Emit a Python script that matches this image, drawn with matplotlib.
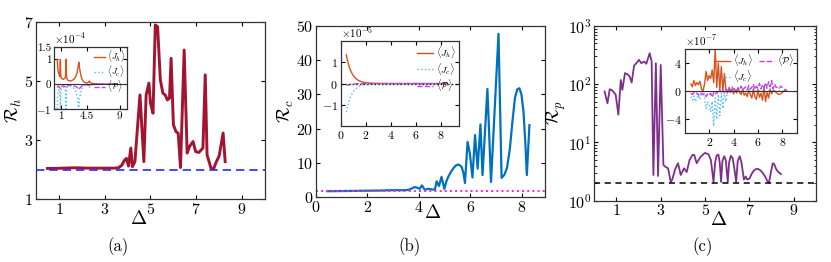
import numpy as np
import matplotlib
matplotlib.use("Agg")
import matplotlib.pyplot as plt

plt.rcParams['font.family'] = 'serif'
plt.rcParams['font.serif'] = ['cmr10', 'DejaVu Serif']
plt.rcParams['mathtext.fontset'] = 'cm'
plt.rcParams['axes.formatter.use_mathtext'] = True
plt.rcParams['axes.unicode_minus'] = True

# ---------------- data: panel (a) ----------------
xa = [0.5, 0.8, 1.2, 1.6, 1.9, 2.2, 2.6, 3.0, 3.4, 3.6, 3.75, 3.85, 3.95, 4.04, 4.14,
      4.21, 4.32, 4.54, 4.71, 4.81, 4.93, 5.0, 5.11, 5.21, 5.31, 5.43, 5.54, 5.64, 5.74,
      5.83, 5.9, 6.0, 6.11, 6.21, 6.31, 6.47, 6.6, 6.71, 6.86, 6.97, 7.11, 7.29, 7.39,
      7.47, 7.64, 7.76, 7.86, 8.0, 8.17, 8.26]
ra = [2.04, 2.04, 2.05, 2.06, 2.06, 2.05, 2.05, 2.05, 2.05, 2.06, 2.15, 2.3, 2.38, 2.12, 2.73,
      2.1, 2.27, 4.53, 2.27, 4.53, 4.93, 4.25, 3.91, 6.9, 6.84, 5.04, 4.59, 4.53, 4.36,
      4.42, 5.77, 3.52, 3.29, 3.23, 2.07, 6.05, 2.56, 2.79, 2.95, 2.61, 2.58, 2.73, 5.21,
      2.5, 2.05, 2.03, 2.24, 2.47, 3.24, 2.27]
ref_a = 2.0

xia = [0.45, 0.5, 0.55, 0.62, 0.7, 0.8, 0.87, 0.92, 1.0, 1.1, 1.2, 1.3, 1.4, 1.5, 1.6, 1.66,
       1.72, 1.8, 1.9, 2.0, 2.2, 2.4, 2.6, 2.8, 3.0, 3.15, 3.3, 3.4, 3.5, 3.65, 3.8, 4.0,
       4.2, 4.4, 4.6, 4.75, 4.85, 4.95, 5.1, 5.3, 5.6, 6.0, 6.5, 7.0, 7.5, 8.0, 8.4]
jha = [1.0, 0.7, 0.55, 0.45, 0.38, 0.3, 1.0, 0.35, 0.25, 0.22, 0.2, 0.2, 0.22, 0.25, 0.35, 1.0,
       0.3, 0.2, 0.16, 0.14, 0.13, 0.14, 0.17, 0.22, 0.32, 0.45, 0.7, 0.88, 0.65, 0.4, 0.22, 0.12,
       0.07, 0.05, 0.05, 0.08, 0.13, 0.07, 0.04, 0.03, 0.02, 0.01, 0.005, 0.0, 0.0, 0.0, 0.0]
jca = [-1.0, -0.5, -0.35, -0.25, -0.2, -0.3, -1.0, -0.3, -0.2, -0.15, -0.12, -0.12, -0.15, -0.2,
       -0.3, -1.0, -0.25, -0.15, -0.1, -0.08, -0.08, -0.1, -0.13, -0.2, -0.3, -0.45, -0.7, -0.95,
       -0.6, -0.35, -0.18, -0.08, -0.05, -0.04, -0.05, -0.08, -0.15, -0.06, -0.03, -0.02, -0.01,
       -0.005, 0, 0, 0, 0, 0]
pa = [-0.1, -0.12, -0.1, -0.08, -0.1, -0.15, -0.18, -0.12, -0.1, -0.08, -0.07, -0.07, -0.08, -0.1,
      -0.12, -0.15, -0.1, -0.07, -0.05, -0.04, -0.04, -0.05, -0.06, -0.08, -0.1, -0.13, -0.18,
      -0.22, -0.17, -0.12, -0.08, -0.05, -0.03, -0.02, -0.02, -0.03, -0.05, -0.02, -0.01, -0.01,
      0, 0, 0, 0, 0, 0, 0]

# ---------------- data: panel (b) ----------------
xb = [0.45, 1.0, 1.5, 2.0, 2.5, 3.0, 3.4, 3.6, 3.75, 3.84, 3.95, 4.03, 4.12, 4.23, 4.36, 4.55,
      4.62, 4.69, 4.78, 4.88, 4.99, 5.06, 5.14, 5.24, 5.33, 5.43, 5.53, 5.6, 5.66, 5.73, 5.79,
      5.89, 5.98, 6.08, 6.18, 6.28, 6.39, 6.47, 6.66, 6.8, 7.09, 7.21, 7.32, 7.42, 7.53, 7.63,
      7.73, 7.82, 7.9, 7.98, 8.06, 8.13, 8.19, 8.29]
rb = [1.7, 1.75, 1.8, 1.85, 1.9, 2.0, 2.0, 2.1, 2.6, 2.9, 2.7, 2.4, 3.4, 2.1, 2.4, 2.2,
      2.1, 4.6, 3.2, 5.9, 2.4, 4.4, 5.9, 7.3, 8.3, 9.2, 9.5, 9.2, 8.8, 7.0, 4.1,
      16.1, 12.7, 5.7, 18.1, 8.3, 21.2, 6.4, 31.6, 4.4, 47.7, 5.6, 6.5, 8.5, 14.0, 22.0,
      29.0, 31.5, 31.8, 30.0, 25.0, 16.0, 6.4, 21.0]
ref_b = 1.8

xib = [0.45, 0.5, 0.6, 0.7, 0.8, 0.9, 1.0, 1.2, 1.4, 1.6, 1.8, 2.0, 2.3, 2.6, 3.0, 3.5, 4.0,
       5.0, 6.0, 7.0, 8.0, 8.4]
jhb = [1.35, 1.2, 0.95, 0.75, 0.6, 0.48, 0.38, 0.24, 0.15, 0.1, 0.065, 0.045, 0.025, 0.015,
       0.008, 0.004, 0.002, 0.001, 0.0, 0.0, 0.0, 0.0]
jcb = [-1.35, -1.2, -0.95, -0.75, -0.6, -0.48, -0.38, -0.24, -0.15, -0.1, -0.065, -0.045,
       -0.025, -0.015, -0.008, -0.004, -0.002, -0.001, 0.0, 0.0, 0.0, 0.0]
pb = [-0.08, -0.07, -0.06, -0.05, -0.04, -0.03, -0.02, -0.015, -0.01, -0.005, 0.0, 0.0, 0.0,
      0.0, 0.0, 0.0, 0.0, 0.0, 0.0, 0.0, 0.0, 0.0]

# ---------------- data: panel (c) ----------------
xc = [0.47, 0.6, 0.7, 0.82, 0.97, 1.09, 1.2, 1.27, 1.39, 1.5, 1.6, 1.69, 1.8, 1.9, 2.02, 2.13,
      2.25, 2.35, 2.5, 2.59, 2.67, 2.78, 2.88, 3.0, 3.12, 3.22, 3.33, 3.45, 3.52, 3.64, 3.78,
      3.9, 4.05, 4.17, 4.3, 4.43, 4.51, 4.62, 4.8, 4.99, 5.15, 5.26, 5.38, 5.45, 5.52, 5.6,
      5.66, 5.72, 5.78, 5.86, 5.93, 6.02, 6.08, 6.16, 6.24, 6.32, 6.4, 6.47, 6.56, 6.64, 6.75,
      6.83, 6.9, 7.0, 7.1, 7.2, 7.3, 7.4, 7.5, 7.6, 7.7, 7.8, 7.88, 7.96, 8.05, 8.12, 8.2,
      8.3, 8.42]
rc = [75, 47, 82, 78, 66, 30, 118, 80, 155, 148, 135, 107, 209, 229, 262, 229,
      245, 224, 340, 245, 2.76, 229, 2.65, 214, 4.1, 3.8, 3.6, 2.1, 2.3, 3.4, 4.4,
      2.76, 3.6, 3.1, 5.0, 6.1, 6.1, 4.4, 5.7, 6.6, 6.3, 5.0, 2.1, 4.5, 6.0, 6.2,
      4.5, 2.1, 4.8, 5.8, 5.0, 2.1, 4.5, 5.9, 5.4, 3.5, 2.1, 4.8, 5.8, 4.5, 2.3,
      2.6, 2.3, 2.4, 2.9, 3.3, 3.5, 3.5, 3.3, 3.0, 2.6, 2.2, 2.04, 3.0, 4.4, 4.2, 3.5,
      3.1, 2.87]
ref_c = 2.0

xic = [0.5, 0.625, 0.75, 0.875, 1.0, 1.125, 1.25, 1.375, 1.5, 1.625, 1.75, 1.875, 2.0, 2.125,
       2.25, 2.375, 2.5, 2.625, 2.75, 2.875, 3.0, 3.125, 3.25, 3.375, 3.5, 3.625, 3.75, 3.875,
       4.0, 4.125, 4.25, 4.375, 4.5, 4.625, 4.75, 4.875, 5.0, 5.125, 5.25, 5.375, 5.5, 5.625,
       5.75, 5.875, 6.0, 6.125, 6.25, 6.375, 6.5, 6.625, 6.75, 6.875, 7.0, 7.125, 7.25, 7.375,
       7.5, 7.625, 7.75, 7.875, 8.0, 8.125, 8.25, 8.375]
jhc = [1.0, 0.6, 1.5, 0.8, 1.2, 0.9, 1.4, 0.3, 0.0, 1.0, 2.8, 1.5, 2.2, 1.8, 3.0, 1.2,
       6.0, 0.5, 4.0, 0.2, 3.5, 0.0, 2.5, 0.2, -0.3, 0.4, -0.2, 0.3, -0.4, 0.2, -0.3, 0.4,
       -0.2, -0.5, 0.3, -0.6, -0.3, -0.8, 0.2, -0.5, -1.0, 0.3, -0.8, -1.2, 0.2, -0.9, -0.3,
       -1.3, 0.5, -1.5, -0.2, -1.0, 0.3, -0.4, 0.1, 0.0, -0.2, -0.4, -0.5, -0.4, -0.2, 0.0,
       0.1, 0.0]
jcc = [-0.8, -1.3, -0.7, -1.5, -1.0, -0.6, -1.2, -0.2, -0.1, -1.0, -2.5, -1.5, -2.0, -3.0,
       -1.5, -5.0, -1.0, -4.0, -0.5, -3.5, -0.3, -2.5, -0.2, -1.5, 0.0,
       0.1, -0.1, 0.05, -0.05, 0.1, 0.0, -0.1, 0.05, 0.0, -0.05,
       0.1, 0.0, -0.1, 0.05, -0.05, 0.1, 0.0, -0.1, 0.05, 0.0,
       0.1, -0.05, 0.0, 0.05, -0.1, 0.0, 0.1, -0.05, 0.0, 0.05,
       0.0, -0.05, 0.0, 0.05, 0.0, 0.0, 0.0, 0.0, 0.0]
pc = [-0.3, -0.5, -0.2, -0.4, -0.3, -0.6, -0.2, -0.4, -0.5, -0.3,
      -0.8, -0.4, -0.6, -0.3, -0.9, -0.2, -0.5, -0.1, -0.4, 0.2,
      -0.3, 0.1, -0.2, 0.3, 0.0,
      0.5, 0.1, 0.6, 0.2, 0.4, 0.0, 0.5, 0.3, 0.7, 0.1,
      0.4, 0.6, 0.2, 0.8, 0.3, 0.5, 1.0, 0.2, 0.7, 0.4,
      1.1, 0.3, 0.9, 0.5, 1.2, 0.4, 1.3, 0.6, 1.5, 0.3,
      1.0, 0.5, 0.6, 0.4, 0.7, 0.5, 0.3, 0.2, 0.1]

labels = [r'$\langle J_h\rangle$', r'$\langle J_c\rangle$', r'$\langle \mathcal{P}\rangle$']

C_ORANGE = '#d95319'
C_CYAN = '#4dbeee'
C_VIOLET = '#c040f0'

fig = plt.figure(figsize=(8.31, 2.62), dpi=100)


def style(ax, fs):
    ax.tick_params(direction='in', top=True, right=True, labelsize=fs, length=3, width=0.8,
                   pad=2)
    ax.tick_params(which='minor', direction='in', top=True, right=True, length=1.8, width=0.6)
    for s in ax.spines.values():
        s.set_linewidth(0.9)
        s.set_color('#333333')


def inset_lines(ax, x, jh, jc, p):
    ax.plot(x, jh, color=C_ORANGE, lw=1.0, label=labels[0])
    ax.plot(x, jc, color=C_CYAN, lw=1.0, ls=':', label=labels[1])
    ax.plot(x, p, color=C_VIOLET, lw=1.0, ls='--', label=labels[2])


MAIN_FS = 11.5
IN_FS = 8.5
LEG_FS = 7

# ---------------- (a) ----------------
axa = fig.add_axes([0.0433, 0.240, 0.2756, 0.676])
axa.plot(xa, ra, color='#a2142f', lw=2.1)
axa.axhline(ref_a, color='#2b2bf5', lw=1.2, ls=(0, (5, 3)))
axa.set_xlim(0, 10)
axa.set_ylim(1, 7)
axa.set_xticks([1, 3, 5, 7, 9])
axa.set_yticks([1, 3, 5, 7])
style(axa, MAIN_FS)
axa.set_ylabel(r'$\mathcal{R}_h$', fontsize=13, labelpad=0)
axa.set_xlabel(r'$\Delta$', fontsize=14)
axa.xaxis.set_label_coords(0.45, -0.06)

ina = fig.add_axes([0.065, 0.584, 0.0878, 0.237])
inset_lines(ina, xia, jha, jca, pa)
ina.axhline(0, color='#333333', lw=0.8)
ina.set_xlim(0, 10)
ina.set_ylim(-1, 1.5)
ina.set_xticks([1, 4.5, 9])
ina.set_xticklabels(['1', '4.5', '9'])
ina.set_yticks([-1, 0, 1, 1.5])
ina.set_yticklabels(['$-1$', '0', '1', '1.5'])
style(ina, 8)
ina.text(0.0, 1.02, r'$\times10^{-4}$', transform=ina.transAxes, fontsize=8, va='bottom')
ina.legend(loc='upper right', fontsize=6.3, frameon=False, handlelength=1.2,
           borderpad=0.0, labelspacing=-0.1, handletextpad=0.3, borderaxespad=0.15)

# ---------------- (b) ----------------
axb = fig.add_axes([0.380, 0.248, 0.276, 0.653])
axb.plot(xb, rb, color='#0072bd', lw=1.6)
axb.axhline(ref_b, color='#ff22cc', lw=1.4, ls=':')
axb.set_xlim(0, 8.9)
axb.set_ylim(0, 50)
axb.set_xticks([0, 2, 4, 6, 8])
axb.set_yticks([0, 10, 20, 30, 40, 50])
style(axb, MAIN_FS)
axb.set_ylabel(r'$\mathcal{R}_c$', fontsize=13, labelpad=0)
axb.set_xlabel(r'$\Delta$', fontsize=14)
axb.xaxis.set_label_coords(0.51, -0.04)

inb = fig.add_axes([0.410, 0.519, 0.142, 0.324])
inset_lines(inb, xib, jhb, jcb, pb)
inb.axhline(0, color='#222222', lw=1.0, ls=':')
inb.set_xlim(0, 9.4)
inb.set_ylim(-2, 2)
inb.set_xticks([0, 2, 4, 6, 8])
inb.set_yticks([-1, 0, 1])
style(inb, IN_FS)
inb.text(0.0, 1.01, r'$\times10^{-5}$', transform=inb.transAxes, fontsize=8, va='bottom')
inb.legend(loc='upper right', fontsize=LEG_FS, frameon=False, handlelength=1.6,
           borderpad=0.1, labelspacing=0.05, handletextpad=0.3, borderaxespad=0.2)

# ---------------- (c) ----------------
axc = fig.add_axes([0.715, 0.234, 0.267, 0.667])
axc.plot(xc, rc, color='#7e2f8e', lw=1.3)
axc.axhline(ref_c, color='black', lw=1.1, ls=(0, (4, 3)))
axc.set_yscale('log')
axc.set_xlim(0, 10)
axc.set_ylim(1, 1000)
axc.set_xticks([1, 3, 5, 7, 9])
style(axc, MAIN_FS)
axc.set_ylabel(r'$\mathcal{R}_p$', fontsize=13, labelpad=0)
axc.set_xlabel(r'$\Delta$', fontsize=14)
axc.xaxis.set_label_coords(0.56, -0.06)

inc = fig.add_axes([0.824, 0.492, 0.135, 0.321])
inset_lines(inc, xic, jhc, jcc, pc)
inc.axhline(0, color='#333333', lw=0.8)
inc.set_xlim(0, 9.2)
inc.set_ylim(-6, 6)
inc.set_xticks([2, 4, 6, 8])
inc.set_yticks([-4, 0, 4])
style(inc, IN_FS)
inc.text(0.0, 1.01, r'$\times10^{-7}$', transform=inc.transAxes, fontsize=8, va='bottom')
inc.legend(loc='upper right', fontsize=LEG_FS, frameon=False, ncol=2, handlelength=1.6,
           borderpad=0.1, labelspacing=0.05, handletextpad=0.3, columnspacing=0.6,
           borderaxespad=0.2)

# panel labels
fig.text(0.142, 0.06, '(a)', ha='center', va='center', fontsize=12)
fig.text(0.493, 0.06, '(b)', ha='center', va='center', fontsize=12)
fig.text(0.845, 0.06, '(c)', ha='center', va='center', fontsize=12)

fig.savefig('out.png', dpi=100)
